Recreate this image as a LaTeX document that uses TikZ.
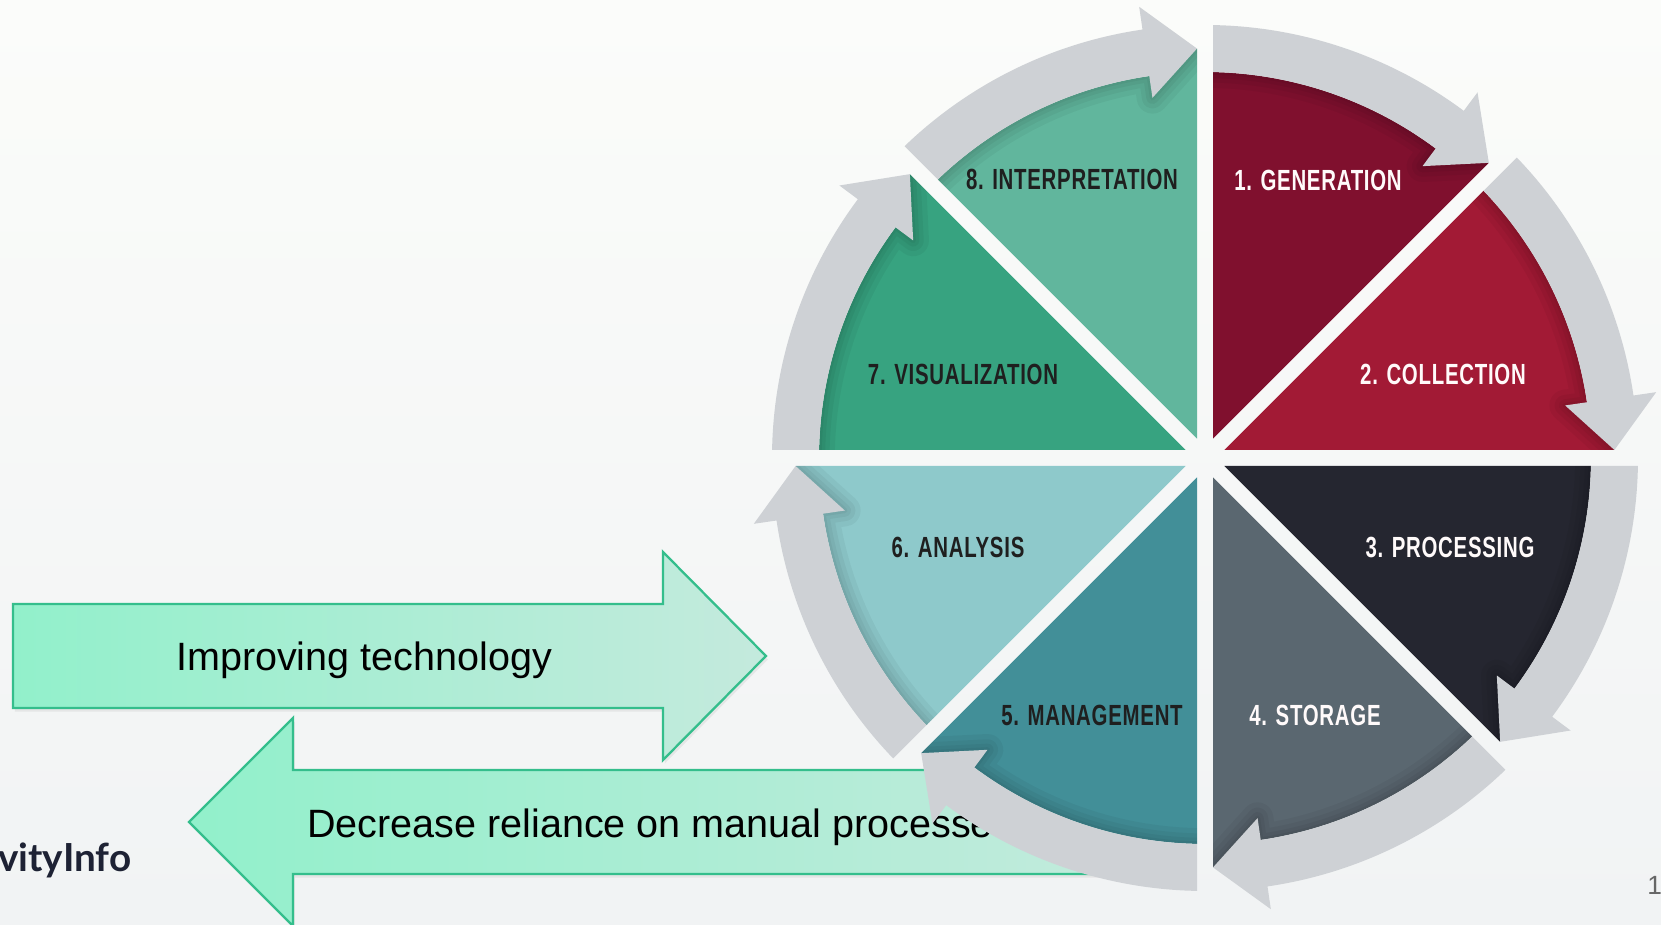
\documentclass[tikz,border=0pt]{standalone}
\usepackage{fontspec}
\setmainfont{Liberation Sans}
\newfontfamily\stagefont[FakeStretch=0.70, LetterSpace=2.5]{Liberation Sans}
\newfontfamily\logofont{Lato}
\usetikzlibrary{shadows}
\definecolor{bgtop}{RGB}{251,252,250}
\definecolor{bgbot}{RGB}{241,243,244}
\definecolor{band}{RGB}{206,209,213}
\definecolor{mintL}{RGB}{146,240,203}
\definecolor{mintR}{RGB}{196,234,221}
\definecolor{mintEdge}{RGB}{52,190,140}
\definecolor{gen}{RGB}{128,16,46}
\definecolor{col}{RGB}{162,26,53}
\definecolor{proc}{RGB}{37,38,48}
\definecolor{stor}{RGB}{90,103,112}
\definecolor{mgmt}{RGB}{66,143,152}
\definecolor{anal}{RGB}{142,201,203}
\definecolor{visu}{RGB}{55,163,128}
\definecolor{intp}{RGB}{97,182,157}
\tikzset{stagelabel/.style = {font=\stagefont\bfseries\fontsize{16.6}{18}\selectfont, inner sep=0pt}}
\tikzset{darklabel/.style = {stagelabel, text=black!88}}
\tikzset{lightlabel/.style = {stagelabel, text=white!92!pink}}
\tikzset{mintarrow/.style = {left color=mintL, right color=mintR, draw=mintEdge, line width=1.3pt,
        drop shadow={shadow xshift=1pt, shadow yshift=-2pt, opacity=.12}}}
\tikzset{bigtext/.style = {font=\fontsize{22.5}{26}\selectfont, inner sep=0pt}}
\tikzset{rim/.style = {black, opacity=.045, line join=round}}
\tikzset{stage/.pic = {
        \fill[#1] (67.5:20.9) -- (88.81:386) arc[start angle=88.81, end angle=53.3, radius=386] -- (46.12:409.5) -- cycle;
        \begin{scope}
                \clip (67.5:20.9) -- (88.81:386) arc[start angle=88.81, end angle=53.3, radius=386] -- (46.12:409.5) -- cycle;
                \draw[rim, line width=18pt] (88.81:386) arc[start angle=88.81, end angle=53.3, radius=386] -- (53.3:364) -- (46.12:409.5);
                \draw[rim, line width=12pt] (88.81:386) arc[start angle=88.81, end angle=53.3, radius=386] -- (53.3:364) -- (46.12:409.5);
                \draw[rim, line width=7pt] (88.81:386) arc[start angle=88.81, end angle=53.3, radius=386] -- (53.3:364) -- (46.12:409.5);
                \draw[rim, line width=3pt] (88.81:386) arc[start angle=88.81, end angle=53.3, radius=386] -- (53.3:364) -- (46.12:409.5);
        \end{scope}
        \fill[band] (88.81:386) -- (88.94:433) arc[start angle=88.94, end angle=53.3, radius=433]
                -- (53.3:456) -- (46.12:409.5) -- (53.3:364) -- (53.3:386)
                arc[start angle=53.3, end angle=88.81, radius=386] -- cycle;
}}

\begin{document}
\begin{tikzpicture}[x=0.02cm, y=0.02cm]
                \useasboundingbox (0,0) rectangle (1661,925);
                \shade[top color=bgtop, bottom color=bgbot] (0,0) rectangle (1661,925);
                % the two block arrows
                \draw[mintarrow] (13,321) -- (663,321) -- (663,373) -- (766,269) -- (663,165) -- (663,217) -- (13,217) -- cycle;
                \node[bigtext] (tech) at (364,265) {Improving technology};
                \draw[mintarrow] (1150,155) -- (293,155) -- (293,207) -- (189,103) -- (293,-1) -- (293,51) -- (1150,51) -- cycle;
                \node[bigtext, anchor=west] (manual) at (307,98) {Decrease reliance on manual processes};
                \node[anchor=west, inner sep=0pt, text={rgb,255:red,30;green,34;blue,52},
                        font=\logofont\bfseries\fontsize{22}{24}\selectfont] (logo) at (-2,65) {vityInfo};
                \node[anchor=west, inner sep=0pt, text=black!60, font=\fontsize{15}{16}\selectfont] (page) at (1647,40) {1};
                % the cycle
                \coordinate (hub) at (1205,467);
                \pic[rotate=0] at (hub) {stage=gen};
                \pic[rotate=-45] at (hub) {stage=col};
                \pic[rotate=-90] at (hub) {stage=proc};
                \pic[rotate=-135] at (hub) {stage=stor};
                \pic[rotate=-180] at (hub) {stage=mgmt};
                \pic[rotate=-225] at (hub) {stage=anal};
                \pic[rotate=-270] at (hub) {stage=visu};
                \pic[rotate=-315] at (hub) {stage=intp};
                \node[lightlabel] (generation) at (1318,745) {1. GENERATION};
                \node[lightlabel] (collection) at (1443,551) {2. COLLECTION};
                \node[lightlabel] (processing) at (1450,378) {3. PROCESSING};
                \node[lightlabel] (storage) at (1315,210) {4. STORAGE};
                \node[darklabel] (management) at (1092,210) {5. MANAGEMENT};
                \node[darklabel] (analysis) at (958,378) {6. ANALYSIS};
                \node[darklabel] (visualization) at (963,551) {7. VISUALIZATION};
                \node[darklabel] (interpretation) at (1072,746) {8. INTERPRETATION};
\end{tikzpicture}
\end{document}
